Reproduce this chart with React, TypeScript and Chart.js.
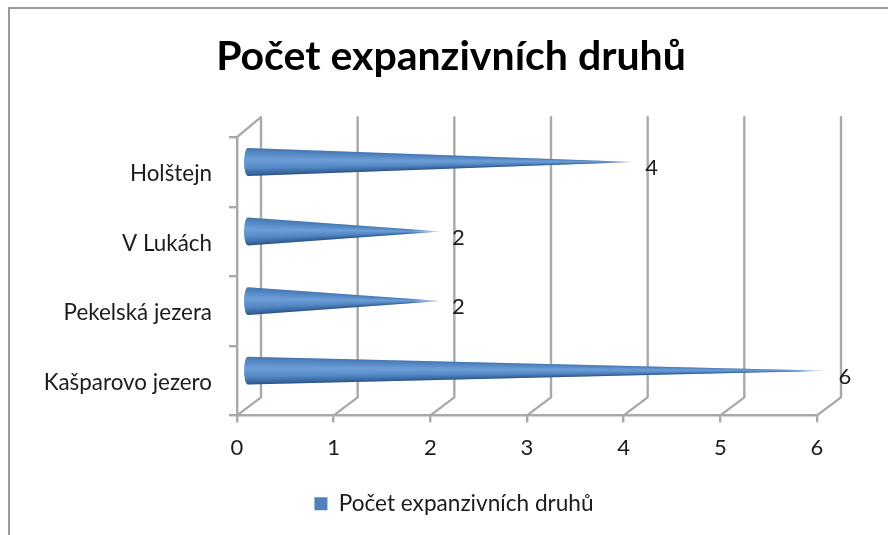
import React, { useEffect, useRef } from "react";
import { Chart, registerables } from "chart.js";

Chart.register(...registerables);

const categories = ["Holštejn", "V Lukách", "Pekelská jezera", "Kašparovo jezero"];
const seriesValues = [4, 2, 2, 6];
const seriesName = "Počet expanzivních druhů";
const titleText = "Počet expanzivních druhů";
const FONT = "Lato, 'Open Sans', sans-serif";
const GRID = "#a9a9a9";
const DEPTH_X = 24;
const DEPTH_Y = 18;

const framePlugin = {
  id: "frame",
  beforeDraw(chart: any) {
    const { ctx, width, height } = chart;
    ctx.save();
    ctx.strokeStyle = "#9a9a9a";
    ctx.lineWidth = 2;
    ctx.beginPath();
    ctx.moveTo(width, 8);
    ctx.lineTo(9, 8);
    ctx.lineTo(9, height);
    ctx.stroke();
    ctx.restore();
    if (chart.legend && !chart.legend.__shifted) {
      chart.legend.left += 3;
      chart.legend.right += 3;
      chart.legend.__shifted = true;
    }
    // long category labels may extend left of the scale box without being clipped
    chart.scales.y.left = 0;
  },
};

const wallPlugin = {
  id: "wall",
  beforeDatasetsDraw(chart: any) {
    const { ctx, chartArea, scales } = chart;
    const { top, bottom, left } = chartArea;
    ctx.save();
    ctx.strokeStyle = GRID;
    ctx.lineWidth = 2.4;
    ctx.lineCap = "round";
    ctx.lineJoin = "round";
    ctx.beginPath();
    ctx.moveTo(left, top);
    ctx.lineTo(left + DEPTH_X, top - DEPTH_Y - 2);
    scales.x.ticks.forEach((t: any) => {
      const x = scales.x.getPixelForValue(t.value);
      ctx.moveTo(x, bottom);
      ctx.lineTo(x + DEPTH_X, bottom - DEPTH_Y);
      ctx.lineTo(x + DEPTH_X, top - DEPTH_Y - 2);
    });
    ctx.stroke();
    ctx.restore();
  },
};

const conePlugin = {
  id: "cones",
  afterDatasetsDraw(chart: any) {
    const { ctx, scales } = chart;
    const meta = chart.getDatasetMeta(0);
    const x0 = scales.x.getPixelForValue(0);
    meta.data.forEach((bar: any, i: number) => {
      const base = x0 + 7;
      const tip = bar.x + 11;
      const cy = bar.y - 10;
      const half = bar.height / 2;
      const rx = 4;
      const cx = base + rx;
      ctx.save();
      ctx.beginPath();
      ctx.moveTo(tip, cy);
      ctx.lineTo(cx, cy - half);
      ctx.ellipse(cx, cy, rx, half, 0, -Math.PI / 2, Math.PI / 2, true);
      ctx.closePath();
      ctx.clip();
      const span = tip - cx;
      for (let x = base; x < tip; x += 1) {
        const p = Math.max(0, (x + 0.5 - cx) / span);
        const h = Math.max(0.6, half * (1 - p));
        const g = ctx.createLinearGradient(0, cy - h, 0, cy + h);
        g.addColorStop(0, "#4476b0");
        g.addColorStop(0.14, "#5185c2");
        g.addColorStop(0.42, "#6d9ed8");
        g.addColorStop(0.72, "#5387c4");
        g.addColorStop(0.92, "#38669e");
        g.addColorStop(1, "#2b5284");
        ctx.fillStyle = g;
        const fade = Math.min(1, (tip - x) / 30);
        ctx.globalAlpha = 0.2 + 0.8 * fade;
        ctx.fillRect(x, cy - half - 1, 1.2, 2 * half + 2);
      }
      ctx.restore();
      ctx.save();
      ctx.globalAlpha = 1;
      ctx.fillStyle = "#1c1c1c";
      ctx.font = `22px ${FONT}`;
      ctx.textAlign = "center";
      ctx.textBaseline = "middle";
      ctx.fillText(String(seriesValues[i]), bar.x + 28, bar.y - 4);
      ctx.restore();
    });
  },
};

export default function App() {
  const ref = useRef<HTMLCanvasElement>(null);
  useEffect(() => {
    document.body.style.margin = "0";
    const chart = new Chart(ref.current!, {
      type: "bar",
      data: {
        labels: categories,
        datasets: [
          {
            label: seriesName,
            data: seriesValues,
            backgroundColor: "rgba(0,0,0,0)",
            categoryPercentage: 0.4,
            barPercentage: 1,
          },
        ],
      },
      options: {
        indexAxis: "y",
        responsive: false,
        animation: false,
        layout: { padding: { left: 85, right: 71, top: 32, bottom: 10 } },
        scales: {
          x: {
            min: 0,
            max: 6,
            afterFit: (s: any) => {
              s.height = 71;
            },
            ticks: { stepSize: 1, color: "#1c1c1c", font: { family: FONT, size: 22 }, padding: 12 },
            grid: { drawOnChartArea: false, color: GRID, lineWidth: 2.4, tickLength: 7 },
            border: { color: GRID, width: 2.4 },
          },
          y: {
            afterFit: (s: any) => {
              s.width = 152;
            },
            ticks: { color: "#1c1c1c", font: { family: FONT, size: 22.4 }, padding: 17, labelOffset: 2 },
            grid: { drawOnChartArea: false, color: GRID, lineWidth: 2.4, tickLength: 8 },
            border: { color: GRID, width: 2.4 },
          },
        },
        plugins: {
          title: {
            display: true,
            text: titleText,
            color: "#000000",
            font: { family: FONT, size: 41, weight: "bold" },
            padding: { top: 0, bottom: 56 },
          },
          legend: {
            display: true,
            position: "bottom",
            labels: {
              color: "#1c1c1c",
              font: { family: FONT, size: 22.6 },
              boxWidth: 13,
              boxHeight: 13,
              padding: 6,
              generateLabels: () => [
                {
                  text: seriesName,
                  fillStyle: "#4f81bd",
                  strokeStyle: "#4f81bd",
                  lineWidth: 0,
                  fontColor: "#1c1c1c",
                  datasetIndex: 0,
                } as any,
              ],
            },
          },
          tooltip: { enabled: false },
        },
      },
      plugins: [framePlugin, wallPlugin, conePlugin],
    } as any);
    return () => chart.destroy();
  }, []);
  return (
    <div style={{ width: 888, height: 535, overflow: "hidden" }}>
      <canvas ref={ref} width={888} height={535} style={{ display: "block" }} />
    </div>
  );
}
